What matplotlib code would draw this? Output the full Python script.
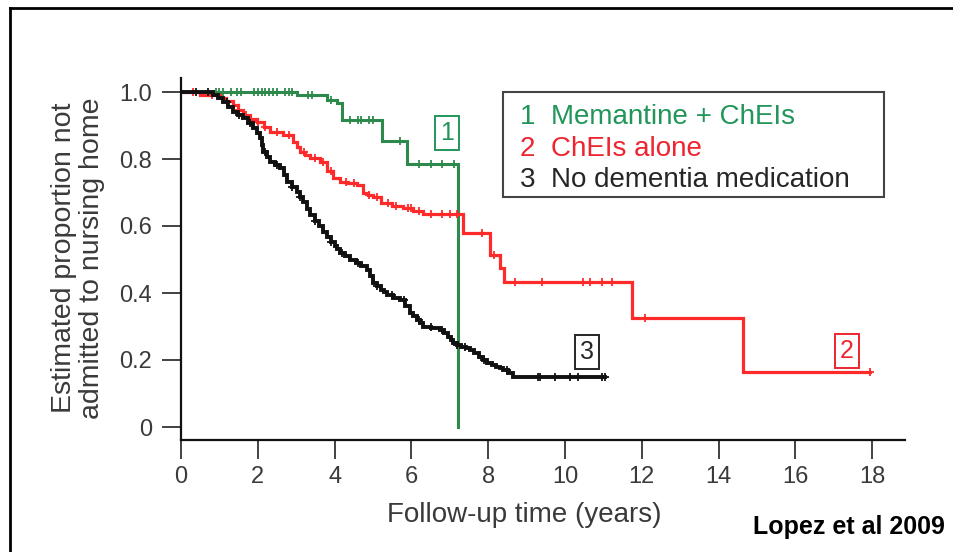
import numpy as np
import matplotlib
matplotlib.use("Agg")
import matplotlib.pyplot as plt
from matplotlib.patches import Rectangle
from matplotlib.lines import Line2D

plt.rcParams['font.family'] = ['Liberation Sans', 'DejaVu Sans']

# Kaplan-Meier step curves: event times (years) and survival after each step
memantine_t = [0, 3.02, 3.80, 4.06, 4.19, 5.23, 5.89, 7.22]
memantine_s = [1.0, 0.991, 0.976, 0.967, 0.916, 0.854, 0.785, 0.0]
memantine_censor = [0.9, 1.0, 1.1, 1.3, 1.45, 1.55, 1.9, 2.0, 2.1, 2.2, 2.3, 2.4, 2.5,
                    2.7, 2.8, 2.9, 3.3, 3.4, 3.9, 4.4, 4.6, 4.7, 4.9, 5.0, 5.7,
                    6.2, 6.5, 6.8, 7.1]

chei_t = [0, 0.5, 1.02, 1.18, 1.35, 1.48, 1.61, 1.80, 1.98, 2.15, 2.32, 2.66, 2.92,
          3.01, 3.10, 3.23, 3.36, 3.62, 3.80, 3.96, 4.14, 4.36, 4.58, 4.74, 4.87, 5.0,
          5.22, 5.50, 5.78, 6.04, 6.30, 7.34, 8.05, 8.31, 8.41, 11.74, 14.64]
chei_s = [1.0, 0.991, 0.982, 0.972, 0.961, 0.946, 0.931, 0.920, 0.910, 0.895, 0.881,
          0.872, 0.851, 0.836, 0.821, 0.812, 0.803, 0.791, 0.765, 0.743, 0.731, 0.727,
          0.722, 0.699, 0.693, 0.687, 0.669, 0.661, 0.654, 0.645, 0.636, 0.580, 0.513,
          0.476, 0.433, 0.325, 0.164]
chei_censor = [0.3, 0.8, 1.2, 1.5, 1.7, 2.0, 2.2, 2.5, 2.8, 3.2, 3.5, 3.7, 3.9, 4.3,
               4.5, 4.9, 5.1, 5.4, 5.6, 5.9, 6.0, 6.2, 6.5, 6.8, 7.0, 7.2, 7.84, 8.15,
               8.70, 9.40, 10.47, 10.65, 10.96, 11.22, 12.08, 17.94]

none_t = [0, 0.83, 0.97, 1.09, 1.22, 1.35, 1.48, 1.61, 1.75, 1.88, 1.97, 2.06, 2.10,
          2.14, 2.23, 2.32, 2.45, 2.58, 2.67, 2.76, 2.89, 3.02, 3.10, 3.18, 3.27, 3.36,
          3.48, 3.60, 3.70, 3.80, 3.90, 4.00, 4.07, 4.14, 4.27, 4.40, 4.55, 4.70, 4.84,
          4.92, 5.00, 5.10, 5.20, 5.28, 5.36, 5.53, 5.70, 5.83, 5.96, 6.05, 6.15, 6.22,
          6.30, 6.52, 6.74, 6.85, 6.95, 7.02, 7.08, 7.19, 7.30, 7.42, 7.53, 7.64, 7.75,
          7.86, 7.97, 8.09, 8.20, 8.30, 8.39, 8.52, 8.65]
none_s = [1.0, 0.991, 0.982, 0.970, 0.955, 0.940, 0.931, 0.922, 0.907, 0.893, 0.878,
          0.863, 0.842, 0.821, 0.806, 0.791, 0.782, 0.773, 0.752, 0.731, 0.716, 0.701,
          0.686, 0.672, 0.652, 0.633, 0.616, 0.600, 0.583, 0.567, 0.553, 0.540, 0.530,
          0.519, 0.509, 0.499, 0.490, 0.480, 0.469, 0.450, 0.430, 0.420, 0.410, 0.402,
          0.394, 0.386, 0.379, 0.360, 0.340, 0.330, 0.320, 0.310, 0.299, 0.295, 0.290,
          0.280, 0.270, 0.260, 0.251, 0.246, 0.240, 0.235, 0.230, 0.220, 0.210, 0.200,
          0.191, 0.186, 0.180, 0.175, 0.170, 0.160, 0.148]
none_censor = [0.4, 0.7, 1.2, 1.5, 1.8, 2.2, 2.5, 2.9, 3.1, 3.5, 3.9, 4.2, 4.6, 5.1,
               5.5, 5.8, 6.2, 6.5, 6.8, 7.2, 7.4, 7.9, 8.5, 9.3, 9.35, 9.74, 10.13,
               10.34, 10.96, 11.04]

group_numbers = ["1", "2", "3"]
group_names = ["Memantine + ChEIs", "ChEIs alone", "No dementia medication"]

x_ticks = [0, 2, 4, 6, 8, 10, 12, 14, 16, 18]
y_ticks = [0, 0.2, 0.4, 0.6, 0.8, 1.0]
y_tick_labels = ["0", "0.2", "0.4", "0.6", "0.8", "1.0"]

line_colors = ["#2e8a4c", "#ff2a2a", "#111111"]
text_colors = ["#22965a", "#ee2530", "#262626"]
grey = "#3a3a3a"

fig = plt.figure(figsize=(9.54, 5.52), dpi=100)
ax = fig.add_axes([181 / 954, 1 - 440 / 552, (905 - 181) / 954, (440 - 78) / 552])


def step_value(times, surv, t):
    idx = np.searchsorted(times, t, side="right") - 1
    return np.asarray(surv)[idx]


curves = [
    (memantine_t, memantine_s, memantine_censor, 7.22),
    (chei_t, chei_s, chei_censor, 17.94),
    (none_t, none_s, none_censor, 11.04),
]
widths = [2.2, 2.3, 2.8]
zorders = [2, 3, 4]
for (t, s, cens, t_end), col, lw, z in zip(curves, line_colors, widths, zorders):
    tt = list(t) + [t_end]
    ss = list(s) + [s[-1]]
    ax.step(tt, ss, where="post", color=col, lw=lw, zorder=z, solid_joinstyle="miter")
    cv = [step_value(t, s, c) for c in cens]
    ax.plot(cens, cv, linestyle="none", marker="+", ms=6, mew=1.3, color=col, zorder=z)

ax.set_xlim(0, (905 - 181) / 38.4)
ax.set_ylim((427 - 440) / 335, (427 - 78) / 335)

for side in ["top", "right"]:
    ax.spines[side].set_visible(False)
for side in ["left", "bottom"]:
    ax.spines[side].set_linewidth(1.6)
    ax.spines[side].set_color("#111111")

ax.set_xticks(x_ticks)
ax.set_xticklabels([str(v) for v in x_ticks])
ax.set_yticks(y_ticks)
ax.set_yticklabels(y_tick_labels)
ax.tick_params(axis="x", direction="out", length=14, width=1.2, pad=5,
               labelsize=17, labelcolor=grey, color="#222222")
ax.tick_params(axis="y", direction="out", length=14, width=1.2, pad=7,
               labelsize=17, labelcolor=grey, color="#222222")

# Legend box with coloured entries
lx0, lx1 = (503 - 181) / 724, (884 - 181) / 724
ly0, ly1 = (440 - 197) / 362, (440 - 92) / 362
ax.add_patch(Rectangle((lx0, ly0), lx1 - lx0, ly1 - ly0, transform=ax.transAxes,
                       fill=True, facecolor="white", edgecolor="#444444", lw=1.5,
                       zorder=6))
for i, (num, name, col) in enumerate(zip(group_numbers, group_names, text_colors)):
    yy = (440 - [117, 149, 180][i]) / 362
    ax.text((520 - 181) / 724, yy, num, transform=ax.transAxes, color=col,
            fontsize=20, ha="left", va="center", zorder=7)
    ax.text((551 - 181) / 724, yy, name, transform=ax.transAxes, color=col,
            fontsize=20, ha="left", va="center", zorder=7)

# Boxed curve numbers
box_pos = [(6.93, 0.878), (17.34, 0.227), (10.57, 0.224)]
for num, (bx, by), col in zip(group_numbers, box_pos, text_colors):
    ax.text(bx, by, num, color=col, fontsize=18, ha="center", va="center", zorder=7,
            bbox=dict(boxstyle="square,pad=0.2", facecolor="white", edgecolor=col,
                      lw=1.4))

fig.text(78 / 954, 1 - 258 / 552, "Estimated proportion not\nadmitted to nursing home",
         rotation=90, ha="center", va="center", fontsize=20.5, color=grey,
         linespacing=1.1)
fig.text(524 / 954, 1 - 515 / 552, "Follow-up time (years)", ha="center", va="center",
         fontsize=20, color=grey)
fig.text(945 / 954, 1 - 527 / 552, "Lopez et al 2009", ha="right", va="center",
         fontsize=18, fontweight="bold", color="black")

# Outer frame (top and left edges)
fig.add_artist(Line2D([10 / 954, 1.0], [1 - 8 / 552, 1 - 8 / 552],
                      transform=fig.transFigure, color="black", lw=2))
fig.add_artist(Line2D([10 / 954, 10 / 954], [0, 1 - 8 / 552],
                      transform=fig.transFigure, color="black", lw=2))

fig.savefig("out.png", dpi=100)
